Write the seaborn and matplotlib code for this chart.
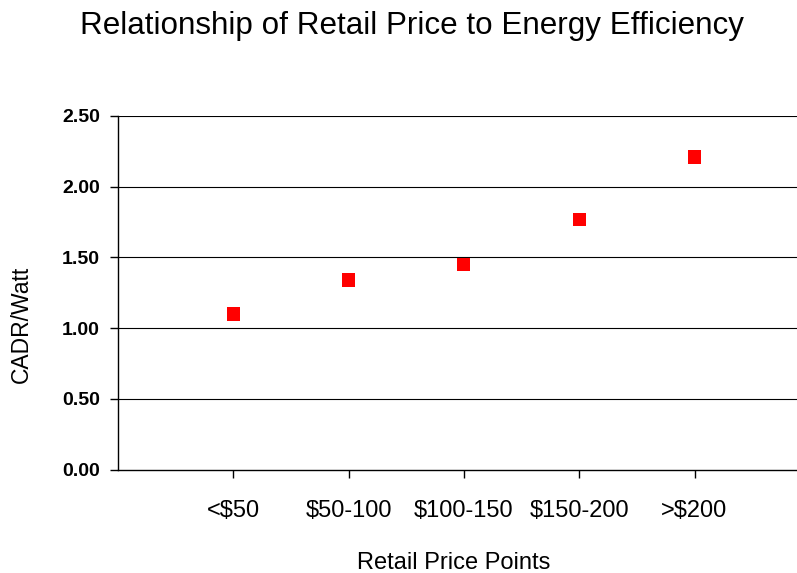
import matplotlib
matplotlib.use("Agg")
import matplotlib.pyplot as plt
import seaborn as sns
import pandas as pd

# data
price_points = ["<$50", "$50-100", "$100-150", "$150-200", ">$200"]
cadr_per_watt = [1.10, 1.34, 1.45, 1.77, 2.21]
y_ticks = [0.0, 0.5, 1.0, 1.5, 2.0, 2.5]

df = pd.DataFrame({"price": price_points, "cadr": cadr_per_watt})
df["pos"] = range(1, len(df) + 1)

sns.set_theme(style="white")
plt.rcParams["font.family"] = ["Liberation Sans", "DejaVu Sans"]
plt.rcParams["text.color"] = "black"
plt.rcParams["axes.labelcolor"] = "black"
plt.rcParams["xtick.color"] = "black"
plt.rcParams["ytick.color"] = "black"

fig = plt.figure(figsize=(7.97, 5.73), dpi=100)
ax = fig.add_axes([118 / 797, 1 - 469.5 / 573, 1 - 118 / 797, (469.5 - 116) / 573])

sns.scatterplot(data=df, x="pos", y="cadr", ax=ax, marker="s", s=90,
                color="#ff0000", edgecolor="none", zorder=3)

ax.set_xlim(0, (797 - 118) / 115.3)
ax.set_ylim(0, 2.5)
ax.set_yticks(y_ticks)
ax.set_yticklabels([f"{v:.2f}" for v in y_ticks], fontweight="bold", fontsize=14)
ax.set_xticks(df["pos"])
ax.set_xticklabels(price_points, fontsize=17)

for v in y_ticks[1:]:
    ax.axhline(v, color="#000000", lw=0.8, zorder=1)

for s in ["top", "right"]:
    ax.spines[s].set_visible(False)
for s in ["left", "bottom"]:
    ax.spines[s].set_color("black")
    ax.spines[s].set_linewidth(1.0)

ax.tick_params(axis="both", direction="out", length=6, width=1, color="black",
               bottom=True, left=True)
ax.tick_params(axis="x", pad=16)
ax.tick_params(axis="y", pad=7)

ax.set_xlabel("Retail Price Points", fontsize=17)
ax.xaxis.label.set_va("center")
ax.xaxis.set_label_coords((454 - 118) / 679, (469.5 - 563) / 353.5)
ax.set_ylabel("CADR/Watt", fontsize=16.5)
ax.yaxis.label.set_va("center")
ax.yaxis.set_label_coords((21 - 118) / 679, (469.5 - 324) / 353.5)
fig.text(411.5 / 797, 1 - 26 / 573, "Relationship of Retail Price to Energy Efficiency",
         ha="center", va="center", fontsize=22.6)

fig.savefig("out.png", dpi=100)
